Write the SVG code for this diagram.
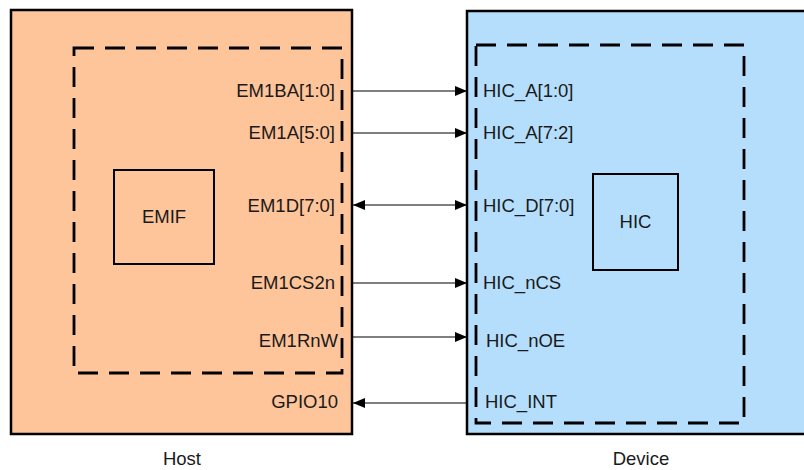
<svg xmlns="http://www.w3.org/2000/svg" width="804" height="470" viewBox="0 0 804 470">
<defs>
<style>
text{font-family:"Liberation Sans",Arial,sans-serif;font-size:18.5px;fill:#1a1a1a}
.box{stroke:#000;stroke-width:2.5}
.dash{fill:none;stroke:#000;stroke-width:2.8;stroke-dasharray:20 11}
.blk{fill:none;stroke:#000;stroke-width:2}
.con{stroke:#000;stroke-width:1.2;fill:none}
.r{text-anchor:end}
.m{text-anchor:middle}
</style>
<marker id="ah" viewBox="0 0 12 10" refX="12" refY="5" markerWidth="12" markerHeight="10" markerUnits="userSpaceOnUse" orient="auto-start-reverse">
<path d="M0,0 L12,5 L0,10 Z" fill="#000"/>
</marker>
</defs>
<g id="host">
<rect class="box" x="11" y="10" width="341" height="424" fill="#FEC49A"/>
<rect class="dash" x="74" y="48" width="268" height="325"/>
<text class="r" x="335" y="97">EM1BA[1:0]</text>
<text class="r" x="335" y="139">EM1A[5:0]</text>
<text class="r" x="335" y="212">EM1D[7:0]</text>
<text class="r" x="335" y="289">EM1CS2n</text>
<text class="r" x="338" y="347">EM1RnW</text>
<text class="r" x="338" y="408">GPIO10</text>
<text class="m" x="182" y="465">Host</text>
</g>
<g id="emif">
<rect class="blk" x="114" y="170" width="100" height="94"/>
<text class="m" x="164" y="223">EMIF</text>
</g>
<g id="device">
<rect class="box" x="467" y="11" width="345" height="423" fill="#B5DEFD"/>
<rect class="dash" x="476" y="45" width="268" height="378"/>
<text x="483" y="97">HIC_A[1:0]</text>
<text x="483" y="139">HIC_A[7:2]</text>
<text x="483" y="212">HIC_D[7:0]</text>
<text x="483" y="289">HIC_nCS</text>
<text x="486" y="347">HIC_nOE</text>
<text x="485" y="408">HIC_INT</text>
<text class="m" x="641" y="465">Device</text>
</g>
<g id="hic">
<rect class="blk" x="593" y="174" width="85" height="96"/>
<text class="m" x="635.5" y="228">HIC</text>
</g>
<g id="connectors">
<line class="con" x1="352" y1="91" x2="467" y2="91" marker-end="url(#ah)"/>
<line class="con" x1="352" y1="133" x2="467" y2="133" marker-end="url(#ah)"/>
<line class="con" x1="353" y1="205" x2="467" y2="205" marker-start="url(#ah)" marker-end="url(#ah)"/>
<line class="con" x1="352" y1="283" x2="467" y2="283" marker-end="url(#ah)"/>
<line class="con" x1="352" y1="337" x2="467" y2="337" marker-end="url(#ah)"/>
<line class="con" x1="467" y1="403" x2="353" y2="403" marker-end="url(#ah)"/>
</g>
</svg>
